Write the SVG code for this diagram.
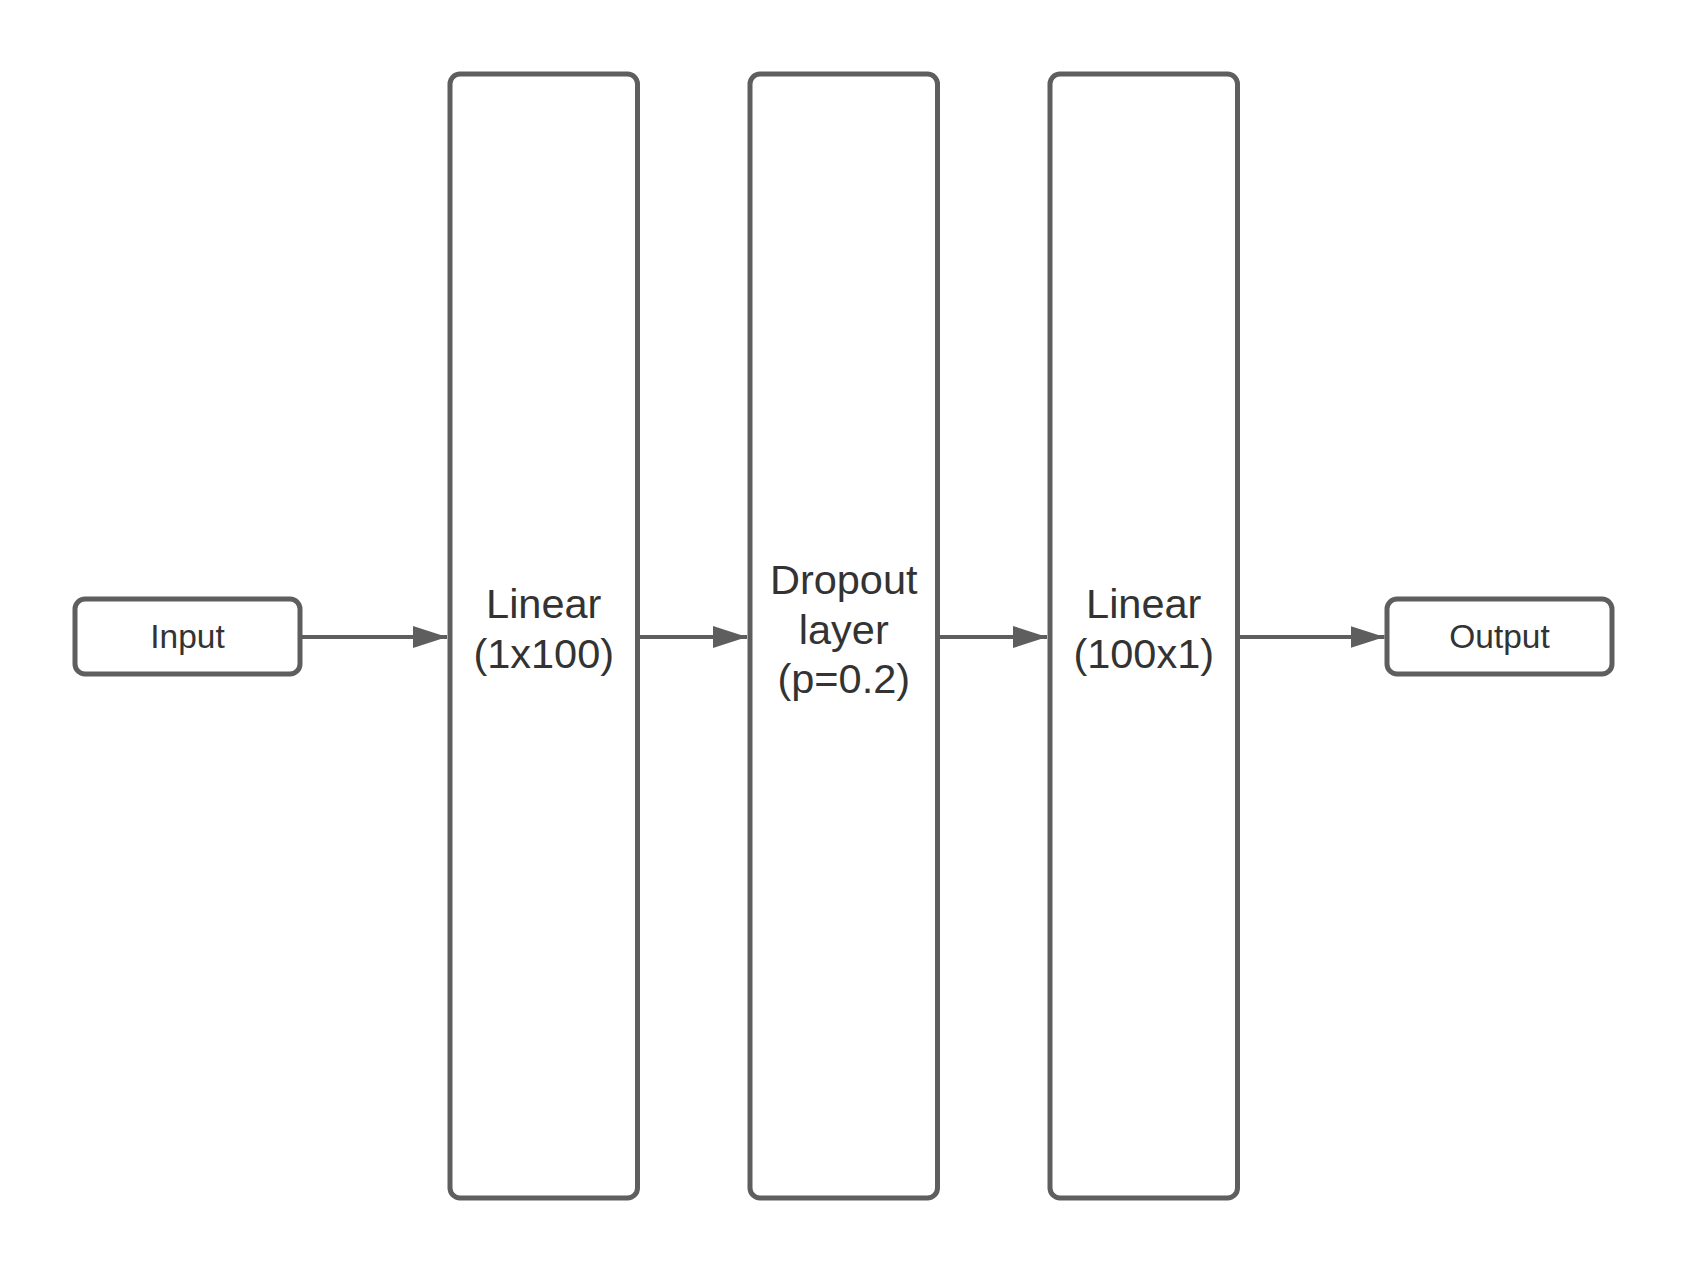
<svg xmlns="http://www.w3.org/2000/svg" width="1688" height="1275" viewBox="0 0 1688 1275">
<style>
.box{fill:#ffffff;stroke:#5e5e5e;stroke-width:5}
.lbl{font-family:"Liberation Sans",Arial,sans-serif;fill:#333333;text-anchor:middle}
.big{font-size:41.5px}
.small{font-size:33.5px}
.conn{stroke:#5e5e5e;stroke-width:4;fill:none}
</style>
<defs>
<marker id="arrow" markerUnits="userSpaceOnUse" markerWidth="36" markerHeight="24" refX="34" refY="11" orient="auto" viewBox="0 0 36 24">
<path d="M0,0 L34,11 L0,22 Z" fill="#5e5e5e"/>
</marker>
</defs>
<rect width="1688" height="1275" fill="#ffffff"/>
<g id="connectors">
<line class="conn" x1="300" y1="637" x2="447" y2="637" marker-end="url(#arrow)"/>
<line class="conn" x1="637.5" y1="637" x2="747" y2="637" marker-end="url(#arrow)"/>
<line class="conn" x1="937.5" y1="637" x2="1047" y2="637" marker-end="url(#arrow)"/>
<line class="conn" x1="1237.5" y1="637" x2="1384.5" y2="637" marker-end="url(#arrow)"/>
</g>
<g id="input">
<rect class="box" x="75" y="599" width="225" height="75" rx="10"/>
<text class="lbl small" x="187.5" y="648">Input</text>
</g>
<g id="linear1">
<rect class="box" x="450" y="74" width="187.5" height="1124" rx="10"/>
<text class="lbl big" x="543.75" y="618">Linear</text>
<text class="lbl big" x="543.75" y="667.5">(1x100)</text>
</g>
<g id="dropout">
<rect class="box" x="750" y="74" width="187.5" height="1124" rx="10"/>
<text class="lbl big" x="843.75" y="594">Dropout</text>
<text class="lbl big" x="843.75" y="643.5">layer</text>
<text class="lbl big" x="843.75" y="693">(p=0.2)</text>
</g>
<g id="linear2">
<rect class="box" x="1050" y="74" width="187.5" height="1124" rx="10"/>
<text class="lbl big" x="1143.75" y="618">Linear</text>
<text class="lbl big" x="1143.75" y="667.5">(100x1)</text>
</g>
<g id="output">
<rect class="box" x="1387" y="599" width="225" height="75" rx="10"/>
<text class="lbl small" x="1499.5" y="648">Output</text>
</g>
</svg>
